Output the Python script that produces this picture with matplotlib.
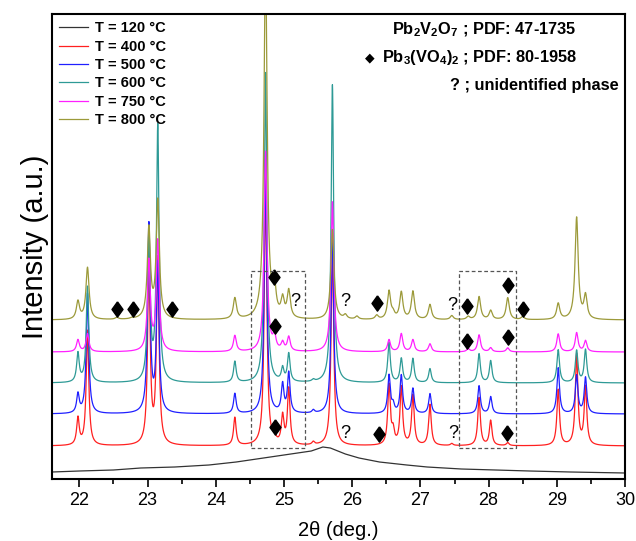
import numpy as np
import matplotlib
matplotlib.use("Agg")
import matplotlib.pyplot as plt
from matplotlib.ticker import MultipleLocator

plt.rcParams['font.family'] = ['Liberation Sans', 'DejaVu Sans']
plt.rcParams['mathtext.fontset'] = 'custom'
plt.rcParams['mathtext.rm'] = 'Liberation Sans'
plt.rcParams['mathtext.bf'] = 'Liberation Sans:bold'

# --- reflection positions (2theta, deg.) ---
peak_pos = [21.98, 22.12, 23.02, 23.15, 24.28, 24.73, 24.86, 24.98, 25.07, 25.43,
            25.71, 26.54, 26.60, 26.72, 26.89, 27.14, 27.46, 27.70, 27.86, 28.03,
            28.28, 28.50, 29.02, 29.29, 29.42]

# peak heights above each pattern's baseline (a.u.)
h_400 = [27, 115, 180, 185, 28, 260, 7, 28, 56, 3,
         200, 60, 13, 58, 50, 41, 2, 0, 48, 25,
         3, 0, 56, 91, 58]
h_500 = [19, 120, 188, 148, 20, 248, 0, 28, 40, 3,
         180, 38, 8, 38, 25, 20, 0, 0, 28, 17,
         0, 0, 46, 38, 36]
h_600 = [29, 96, 150, 255, 21, 310, 0, 13, 28, 2,
         298, 40, 0, 24, 24, 14, 0, 0, 29, 22,
         0, 0, 33, 32, 33]
h_750 = [12, 18, 90, 110, 16, 200, 14, 8, 14, 0,
         150, 12, 0, 18, 12, 8, 0, 3, 17, 4,
         4, 0, 18, 19, 11]
h_800 = [18, 52, 90, 118, 21, 360, 28, 18, 27, 0,
         90, 28, 5, 27, 28, 15, 4, 3, 23, 9,
         22, 3, 16, 102, 23]

# extra weak reflections only seen at 800 C
extra_pos_800 = [22.55, 22.77, 25.90, 26.07, 26.36]
extra_h_800 = [2, 1, 4, 3, 4]

# vertical offsets of the stacked patterns
offsets = [33, 65, 96, 127, 159]
widths = [0.045, 0.045, 0.045, 0.05, 0.055]

# amorphous pattern at 120 C
tt_120 = [21.6, 22.0, 22.5, 22.9, 23.4, 23.9, 24.3, 24.8, 25.2, 25.4, 25.57,
          25.68, 25.9, 26.1, 26.4, 26.8, 27.1, 27.6, 28.1, 28.6, 29.2, 29.6, 30.0]
i_120 = [7, 8, 9, 11, 12, 14, 17, 22, 26, 28, 32,
         31, 25, 21, 17, 14, 12, 10, 9, 8, 7, 6.5, 6]

labels = ['T = 120 °C', 'T = 400 °C', 'T = 500 °C', 'T = 600 °C', 'T = 750 °C', 'T = 800 °C']
colors = ['#333333', '#ff2020', '#2020ff', '#2e9a96', '#ff20ff', '#9c9a3a']

# Pb3(VO4)2 markers and unidentified reflections
dia_x = [22.55, 22.79, 23.36, 24.86, 24.87, 24.87, 26.37, 27.69, 28.29, 28.51,
         27.69, 28.29, 26.40, 28.27]
dia_y = [170, 170, 170, 202, 153, 52, 176, 173, 194, 170, 138, 142, 45, 46]
q_x = [25.16, 25.90, 27.47, 25.90, 27.48]
q_y = [178, 178, 174, 46, 46]

# zoomed regions
boxes = [(24.52, 25.31, 31, 208), (27.57, 28.40, 31, 208)]


def profile(x, pos, hts, w):
    y = np.zeros_like(x)
    for p, h in zip(pos, hts):
        y += h / (1 + ((x - p) / (w / 2)) ** 2)
    return y


x = np.linspace(21.6, 30, 8401)

fig = plt.figure(figsize=(6.36, 5.41), dpi=100)
ax = fig.add_axes([0.0818, 0.1146, 0.901, 0.8595])

ax.plot(tt_120, i_120, color=colors[0], lw=0.9, label=labels[0])
all_h = [h_400, h_500, h_600, h_750, h_800]
for k, hts in enumerate(all_h):
    y = offsets[k] + profile(x, peak_pos, hts, widths[k])
    if k == 4:
        y += profile(x, extra_pos_800, extra_h_800, widths[k])
    ax.plot(x, y, color=colors[k + 1], lw=0.9, label=labels[k + 1])

diamond = [(0, 1), (0.72, 0), (0, -1), (-0.72, 0), (0, 1)]
ax.plot(dia_x, dia_y, ls='none', marker=diamond, ms=11, color='black')
for qx, qy in zip(q_x, q_y):
    ax.text(qx, qy, '?', fontsize=13, ha='center', va='center')

for x0, x1, y0, y1 in boxes:
    ax.plot([x0, x1, x1, x0, x0], [y0, y0, y1, y1, y0], ls='--', lw=0.9,
            color='#555555', dashes=(3, 2))

ax.set_xlim(21.6, 30)
ax.set_ylim(0, 465)
ax.set_yticks([])
ax.xaxis.set_major_locator(MultipleLocator(1))
ax.xaxis.set_minor_locator(MultipleLocator(0.5))
ax.tick_params(axis='x', which='major', length=6, width=1.2, labelsize=13,
               direction='out', pad=3)
ax.tick_params(axis='x', which='minor', length=3.5, width=1.2, direction='out')
for s in ax.spines.values():
    s.set_linewidth(1.5)

ax.set_xlabel('2\u03b8 (deg.)', fontsize=14.5, labelpad=9)
ax.set_ylabel('Intensity (a.u.)', fontsize=21, labelpad=2)

leg = ax.legend(loc='upper left', frameon=False, handlelength=2.0,
                labelspacing=0.3, borderaxespad=0.1, handletextpad=0.45,
                prop={'weight': 'bold', 'size': 10.5})

ax.text(0.916, 0.966, r'$\mathbf{Pb_2V_2O_7}$ ; PDF: 47-1735', transform=ax.transAxes,
        ha='right', va='center', fontsize=11.8, fontweight='bold')
ax.text(0.916, 0.906, r'$\mathbf{Pb_3(VO_4)_2}$ ; PDF: 80-1958', transform=ax.transAxes,
        ha='right', va='center', fontsize=11.8, fontweight='bold')
ax.text(0.555, 0.906, '\u25c6', transform=ax.transAxes, ha='center', va='center',
        fontsize=9, family='DejaVu Sans')
ax.text(0.988, 0.846, '? ; unidentified phase', transform=ax.transAxes,
        ha='right', va='center', fontsize=11.8, fontweight='bold')

fig.savefig('out.png', dpi=100)
